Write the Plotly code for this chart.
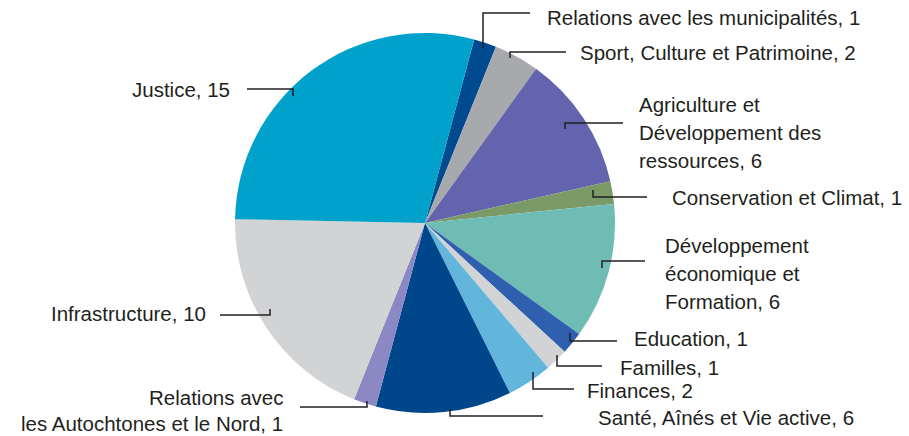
import plotly.graph_objects as go

W, H = 909, 436

categories = [
    "Relations avec les municipalités",
    "Sport, Culture et Patrimoine",
    "Agriculture et Développement des ressources",
    "Conservation et Climat",
    "Développement économique et Formation",
    "Education",
    "Familles",
    "Finances",
    "Santé, Aînés et Vie active",
    "Relations avec les Autochtones et le Nord",
    "Infrastructure",
    "Justice",
]
values = [1, 2, 6, 1, 6, 1, 1, 2, 6, 1, 10, 15]
colors = ["#004a8f", "#a7a9ac", "#6364ad", "#7a9a68", "#6fbcb5", "#2f5faf",
          "#d1d3d4", "#62b6dc", "#00468b", "#8b88c3", "#d1d3d5", "#00a2cb"]
label_lines = [
    ["Relations avec les municipalités, 1"],
    ["Sport, Culture et Patrimoine, 2"],
    ["Agriculture et", "Développement des", "ressources, 6"],
    ["Conservation et Climat, 1"],
    ["Développement", "économique et", "Formation, 6"],
    ["Education, 1"],
    ["Familles, 1"],
    ["Finances, 2"],
    ["Santé, Aînés et Vie active, 6"],
    ["Relations avec", "les Autochtones et le Nord, 1"],
    ["Infrastructure, 10"],
    ["Justice, 15"],
]

# layout: (text anchor x, first line y, align, line spacing), leader (tick x, tick y0, line y, line x end)
label_layout = [
    (545, 17, "left", 28, (483, 48, 13, 530)),
    (578, 52, "left", 28, (510, 58, 52, 566)),
    (637, 104, "left", 28, (565, 129, 123, 623)),
    (670, 197, "left", 28, (593, 190, 197, 647)),
    (663, 245, "left", 28, (602, 268, 261, 645)),
    (632, 338, "left", 28, (570, 333, 341, 617)),
    (618, 367, "left", 28, (557, 355, 366, 602)),
    (585, 390, "left", 28, (533, 372, 389, 574)),
    (596, 417, "left", 28, (450, 409, 416, 543)),
    (285, 397, "right", 26, (367, 401, 407, 300)),
    (208, 313, "right", 28, (270, 309, 315, 220)),
    (232, 89, "right", 28, (293, 96, 89, 247)),
]

fig = go.Figure()
fig.add_trace(go.Pie(
    labels=categories, values=values, sort=False, direction="clockwise",
    rotation=15, marker=dict(colors=colors, line=dict(width=0)),
    textinfo="none", hoverinfo="label+value", showlegend=False,
    domain=dict(x=[235 / W, 615 / W], y=[1 - 413 / H, 1 - 33 / H]),
))

FONT = dict(family="Liberation Sans, Arial, sans-serif", size=20.5, color="#231f20")
LINE = dict(color="#231f20", width=1.5)
annotations = []
shapes = []
for lines, (tx, ty, align, sp, (kx, ky0, ly, lx1)) in zip(label_lines, label_layout):
    for i, t in enumerate(lines):
        annotations.append(dict(
            x=tx, y=ty + i * sp, xref="x", yref="y", text=t, showarrow=False,
            xanchor="left" if align == "left" else "right", yanchor="middle",
            font=FONT))
    shapes.append(dict(type="path", xref="x", yref="y",
                       path=f"M{kx},{ky0} L{kx},{ly} L{lx1},{ly}", line=LINE))

fig.update_layout(
    width=W, height=H, margin=dict(l=0, r=0, t=0, b=0),
    paper_bgcolor="white", plot_bgcolor="rgba(0,0,0,0)",
    xaxis=dict(range=[0, W], visible=False, fixedrange=True),
    yaxis=dict(range=[H, 0], visible=False, fixedrange=True),
    annotations=annotations, shapes=shapes,
)
fig.write_html("out.html", config={"displayModeBar": False},
               post_script="document.body.style.margin='0';document.body.style.overflow='hidden';")
